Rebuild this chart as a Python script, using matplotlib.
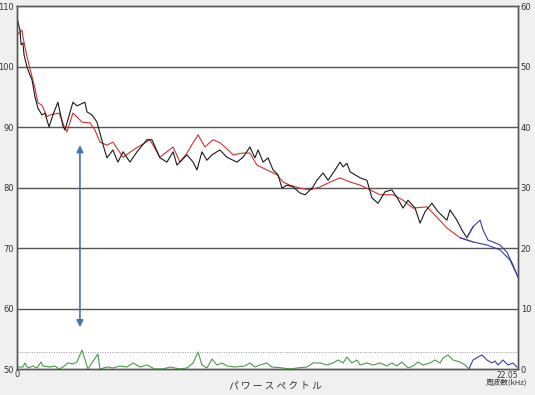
import numpy as np
import matplotlib
matplotlib.use('Agg')
import matplotlib.pyplot as plt

# ==========================================
# dados (kHz, dB)
freq_preto = [0.00, 0.13, 0.18, 0.26, 0.31, 0.44, 0.57, 0.66, 0.79, 0.92, 1.10, 1.23, 1.41, 1.58,
              1.80, 2.02, 2.11, 2.46, 2.64, 2.99, 3.08, 3.30, 3.52, 3.65, 3.83, 3.96, 4.22, 4.44,
              4.67, 4.97, 5.28, 5.72, 5.94, 6.29, 6.60, 6.87, 7.04, 7.17, 7.48, 7.75, 7.92, 8.14,
              8.36, 8.58, 8.93, 9.24, 9.68, 9.95, 10.25, 10.47, 10.61, 10.83, 11.05, 11.27, 11.49,
              11.66, 11.88, 12.15, 12.45, 12.68, 12.90, 13.03, 13.20, 13.47, 13.69, 14.00, 14.22,
              14.35, 14.52, 14.66, 14.88, 15.10, 15.40, 15.62, 15.89, 16.20, 16.50, 16.72, 16.99,
              17.21, 17.52, 17.74, 17.96, 18.26, 18.53, 18.92, 19.06, 19.36, 19.58, 19.80, 20.07,
              20.38, 20.51, 20.73, 20.95, 21.26, 21.56, 21.83, 22.05]
db_preto = [108.0, 106.0, 103.6, 103.9, 101.9, 99.9, 98.6, 97.8, 95.0, 93.1, 92.0, 92.3, 90.0, 92.0,
            94.1, 90.2, 89.5, 94.1, 93.5, 94.1, 92.5, 92.0, 90.8, 89.0, 86.5, 84.9, 86.2, 84.2,
            85.9, 84.2, 85.9, 87.9, 87.9, 84.9, 84.2, 85.9, 83.7, 84.2, 85.4, 84.2, 82.9, 85.9,
            84.5, 85.4, 86.2, 85.0, 84.2, 85.0, 86.7, 84.9, 86.2, 84.2, 84.9, 82.9, 82.1,
            79.9, 80.4, 80.1, 79.1, 78.8, 79.6, 80.1, 81.2, 82.4, 81.2, 82.9, 84.2,
            83.4, 84.0, 82.6, 82.1, 81.6, 81.2, 78.3, 77.4, 79.3, 79.6, 78.4, 76.6,
            77.9, 76.6, 74.1, 76.0, 77.4, 76.0, 74.6, 76.3, 74.6, 73.0, 71.7, 73.5,
            74.6, 73.0, 71.3, 71.0, 70.5, 69.3, 67.2, 65.2]

freq_verm = [0.00, 0.22, 0.26, 0.44, 0.66, 0.79, 0.92, 1.10, 1.32, 1.45, 1.85, 2.11, 2.20, 2.46,
             2.86, 3.21, 3.43, 3.65, 3.96, 4.22, 4.67, 5.11, 5.85, 6.29, 6.87, 7.17, 7.48, 7.75,
             7.97, 8.27, 8.63, 8.93, 9.15, 9.51, 9.95, 10.25, 10.56, 11.00, 11.44, 11.71, 12.01,
             12.45, 12.90, 13.34, 13.78, 14.22, 14.66, 15.10, 15.54, 15.98, 16.55, 16.99, 17.43,
             18.04, 18.48, 18.92, 19.50, 20.07, 20.68, 21.26, 21.70, 22.05]
db_verm = [105.2, 106.0, 104.9, 101.6, 98.3, 96.4, 94.0, 93.6, 91.7, 92.0, 92.3, 89.8, 89.2, 92.3,
           90.8, 90.7, 89.5, 87.5, 87.0, 87.5, 85.0, 86.2, 87.9, 85.0, 86.7, 84.2, 85.7, 87.4,
           88.7, 86.7, 87.9, 87.4, 86.7, 85.4, 85.7, 85.7, 83.7, 82.9, 82.1, 80.9, 80.4,
           79.9, 79.6, 80.1, 80.9, 81.6, 80.9, 80.4, 79.6, 78.8, 78.8, 77.9, 76.6,
           76.8, 75.1, 73.3, 71.7, 71.0, 70.5, 69.7, 68.0, 65.2]

# curva verde (eixo da direita)
freq_verde = [0.00, 0.26, 0.35, 0.48, 0.70, 0.88, 1.06, 1.14, 1.45, 1.67, 1.85, 2.02, 2.24, 2.46,
              2.64, 2.86, 3.12, 3.56, 3.65, 3.96, 4.22, 4.53, 4.84, 5.11, 5.41, 5.72, 6.07, 6.43,
              6.73, 6.95, 7.17, 7.48, 7.75, 7.97, 8.14, 8.36, 8.58, 8.80, 9.02, 9.24, 9.59, 10.03,
              10.25, 10.47, 10.69, 11.00, 11.22, 11.71, 12.01, 12.32, 12.76, 13.03, 13.34, 13.64,
              13.91, 14.13, 14.35, 14.52, 14.74, 14.96, 15.10, 15.40, 15.67, 15.98, 16.28, 16.50,
              16.72, 16.94, 17.21, 17.43, 17.65, 17.87, 18.18, 18.40, 18.62, 18.75, 18.97, 19.19,
              19.50, 19.72, 19.89, 20.07, 20.29, 20.47, 20.68, 20.90, 21.04, 21.17, 21.39, 21.61,
              21.83, 22.00]
val_verde = [0.33, 0.33, 1.0, 0.17, 0.5, 0.17, 1.16, 0.5, 0.33, 0.5, 0.0, 0.33, 1.0, 0.83,
             1.16, 3.14, 0.0, 2.48, 0.0, 0.33, 0.17, 0.5, 0.33, 1.0, 0.33, 0.66, 0.0, 0.0,
             0.33, 0.17, 0.0, 0.17, 1.0, 2.81, 0.66, 0.17, 1.65, 0.66, 1.0, 0.5, 0.33, 0.5,
             1.0, 0.33, 0.66, 1.0, 0.33, 0.17, 0.0, 0.17, 0.33, 1.0, 1.0, 0.66,
             1.0, 1.49, 1.0, 1.98, 1.0, 1.49, 0.66, 1.0, 0.66, 1.0, 0.5, 1.0,
             0.5, 1.16, 0.17, 0.5, 1.16, 0.66, 1.0, 1.49, 1.0, 1.82, 2.31, 1.49,
             1.16, 0.66, 0.0, 1.49, 1.98, 2.31, 1.49, 1.0, 1.32, 0.66, 1.49, 0.66,
             1.0, 0.33]

corte = 19.89      # a partir daqui as curvas ficam azuis
limiar = 2.8       # linha pontilhada (eixo direito)
seta_x = 2.77
seta_y = (87.0, 56.9)

# ==========================================
fig = plt.figure(figsize=(5.35, 3.95), dpi=100, facecolor='#f0f0f0')
ax = fig.add_axes([0.0318, 0.0658, 0.9364, 0.919])
ax.set_facecolor('white')
ax2 = ax.twinx()

def desenha(eixo, x, y, cor):
    x = np.array(x)
    y = np.array(y)
    i = np.argmax(x >= corte)
    eixo.plot(x[:i + 1], y[:i + 1], color=cor, lw=0.8)
    j = i - 1 if x[i] > corte else i
    eixo.plot(x[j:], y[j:], color='#3c3ca0', lw=0.8)

for g in [60, 70, 80, 90, 100]:
    ax.axhline(g, color='#555555', lw=1.0, zorder=1)

desenha(ax, freq_verm, db_verm, '#cc3333')
desenha(ax, freq_preto, db_preto, '#1a1a1a')
desenha(ax2, freq_verde, val_verde, '#4a9a4a')
ax2.axhline(limiar, color='#999999', lw=0.7, ls=(0, (1, 1.5)))

ax.annotate('', xy=(seta_x, seta_y[0]), xytext=(seta_x, seta_y[1]),
            arrowprops=dict(arrowstyle='<|-|>', color='#4a74aa', lw=1.2,
                            mutation_scale=10, shrinkA=0, shrinkB=0))

ax.set_xlim(0, 22.05)
ax.set_ylim(50, 110)
ax2.set_ylim(0, 60)
ax.set_yticks(np.arange(50, 111, 10))
ax2.set_yticks(np.arange(0, 61, 10))
ax.set_xticks([0])
ax.set_xticklabels(['0'])
for a in (ax, ax2):
    a.tick_params(length=0, labelsize=6, colors='#333333', pad=2)
    for s in a.spines.values():
        s.set_color('#555555')
        s.set_linewidth(1.0)
ax.tick_params(axis='x', pad=1)

jp = ['Noto Sans CJK JP', 'DejaVu Sans']
fig.text(0.9475, 0.050, '22.05', fontsize=5.5, color='#333333', ha='center', va='center')
fig.text(0.9475, 0.031, '周波数(kHz)', fontsize=5.5, color='#333333', ha='center', va='center', family=jp)
fig.text(0.514, 0.025, 'パ ワ ー ス ペ ク ト ル', fontsize=7, color='#333333', ha='center', va='center', family=jp)

plt.savefig('out.png', dpi=100, facecolor=fig.get_facecolor())
